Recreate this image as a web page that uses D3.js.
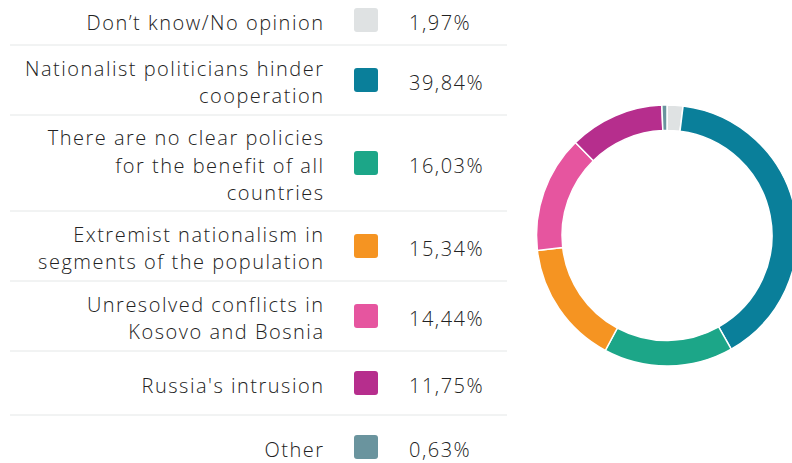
<!DOCTYPE html>
<html>
<head>
<meta charset="utf-8">
<script src="https://cdn.jsdelivr.net/npm/d3@7"></script>
<style>
  body { margin: 0; background: #fff; overflow: hidden; }
  svg { display: block; font-family: "Open Sans", Lato, sans-serif; }
</style>
</head>
<body>
<svg></svg>
<script>
// Data
const labels = [
    ["Don\u2019t know/No opinion"],
    ["Nationalist politicians hinder", "cooperation"],
    ["There are no clear policies", "for the benefit of all", "countries"],
    ["Extremist nationalism in", "segments of the population"],
    ["Unresolved conflicts in", "Kosovo and Bosnia"],
    ["Russia's intrusion"],
    ["Other"]
];
const values = [1.97, 39.84, 16.03, 15.34, 14.44, 11.75, 0.63];
const colors = ["#dfe2e3", "#0a7f9a", "#1ca688", "#f59422", "#e6559f", "#b62e8d", "#6a949e"];

const width = 792, height = 463;
const svg = d3.select("svg")
    .attr("width", width)
    .attr("height", height);

const data = labels.map((l, i) => ({ lines: l, value: values[i], color: colors[i] }));

// Match the wide font of the original: spread letters so the longest line fills ~298px
const fontSize = 20;
const probe = svg.append("text")
    .attr("font-size", fontSize)
    .attr("font-weight", 300)
    .text("Nationalist politicians hinder");
const natural = probe.node().getComputedTextLength();
probe.remove();
const spacing = Math.max(0, (298 - natural) / 29);

// Legend table rows
const lineH = 27.5;
let y = -5;
data.forEach((d, i) => {
    const h = i === 0 ? 50 : Math.max(64, d.lines.length * 26 + 18);
    d.top = y;
    d.h = h;
    d.cy = y + h / 2;
    y += h;
});

const fmt = v => d3.format(".2f")(v).replace(".", ",") + "%";

const rows = svg.append("g").selectAll("g")
    .data(data)
    .enter()
    .append("g");

rows.filter((d, i) => i < data.length - 1)
    .append("line")
    .attr("x1", 10)
    .attr("x2", 507)
    .attr("y1", d => d.top + d.h)
    .attr("y2", d => d.top + d.h)
    .attr("stroke", "#e4e7e7")
    .attr("stroke-width", 1);

rows.append("text")
    .attr("text-anchor", "end")
    .attr("font-size", fontSize)
    .attr("font-weight", 300)
    .attr("letter-spacing", spacing)
    .attr("fill", "#222")
    .selectAll("tspan")
    .data(d => d.lines.map((t, j) => ({ t, y: d.cy + (j - (d.lines.length - 1) / 2) * lineH + 9.5 })))
    .enter()
    .append("tspan")
    .attr("x", 323 + spacing)
    .attr("y", d => d.y)
    .text(d => d.t);

rows.append("rect")
    .attr("x", 354)
    .attr("y", d => d.cy - 12)
    .attr("width", 24)
    .attr("height", 24)
    .attr("rx", 3)
    .attr("fill", d => d.color);

rows.append("text")
    .attr("x", 409)
    .attr("y", d => d.cy + 9.5)
    .attr("font-size", fontSize)
    .attr("font-weight", 300)
    .attr("letter-spacing", spacing)
    .attr("fill", "#222")
    .text(d => fmt(d.value));

// Donut
const cx = 667, cy = 235.5;
const pie = d3.pie().value(d => d.value).sort(null);
const arc = d3.arc().innerRadius(105).outerRadius(130.5);

svg.append("g")
    .attr("transform", `translate(${cx},${cy})`)
    .selectAll("path")
    .data(pie(data))
    .enter()
    .append("path")
    .attr("d", arc)
    .attr("fill", d => d.data.color)
    .attr("stroke", "#fff")
    .attr("stroke-width", 1.5);
</script>
</body>
</html>
